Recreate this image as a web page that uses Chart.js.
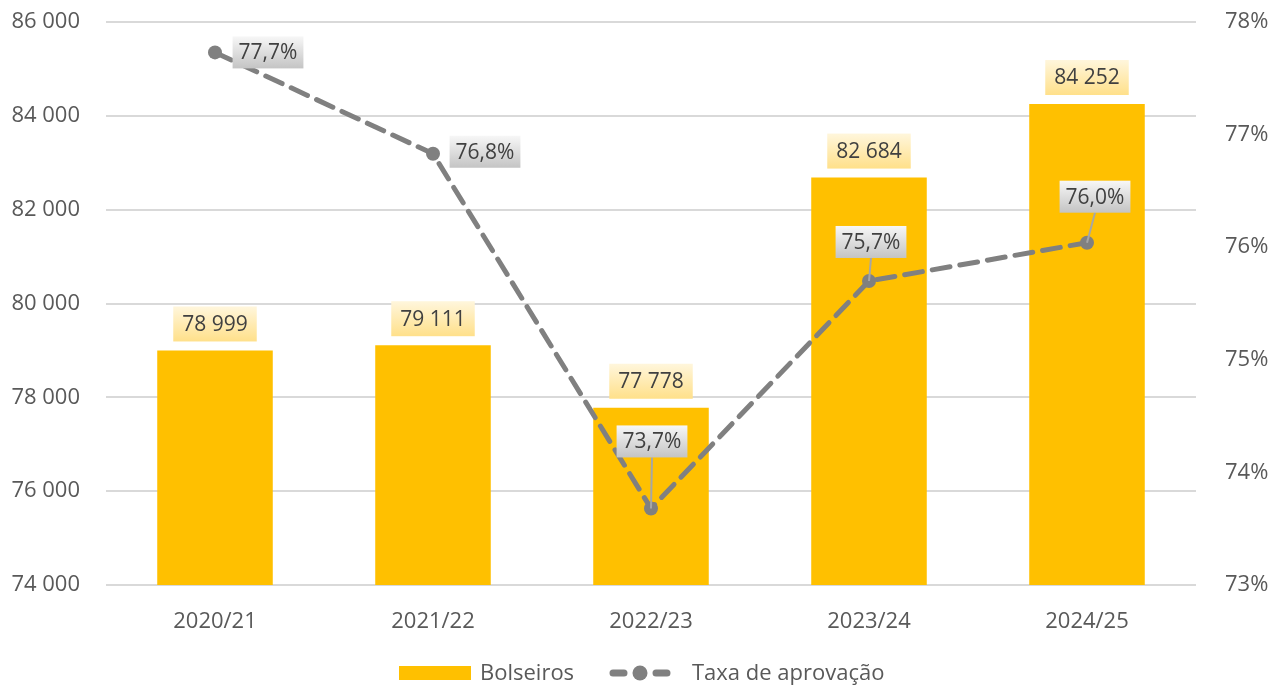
<!DOCTYPE html>
<html>
<head>
<meta charset="utf-8">
<script src="https://cdn.jsdelivr.net/npm/chart.js@4"></script>
<style>
  html, body { margin: 0; padding: 0; background: #fff; }
  #wrap { width: 1281px; height: 686px; position: relative; }
</style>
</head>
<body>
<div id="wrap"><canvas id="chart"></canvas></div>
<script>
// Data
const anos = ["2020/21", "2021/22", "2022/23", "2023/24", "2024/25"];
const bolseiros = [78999, 79111, 77778, 82684, 84252];
const taxaAprovacao = [77.73, 76.83, 73.68, 75.70, 76.04];

// label placement for the line labels (offset of box centre from point)
const lineLabelOffsets = [[53, 0], [52, -2], [1, -67], [2, -39], [8, -46]];

const FONT = "'Open Sans', sans-serif";
const TEXT = "#595959";

const fmtMil = v => String(Math.round(v)).replace(/\B(?=(\d{3})+(?!\d))/g, " ");
const fmtPct = v => v.toFixed(1).replace(".", ",") + "%";

function box(ctx, x, y, w, h, c1, c2) {
  const g = ctx.createLinearGradient(0, y, 0, y + h);
  g.addColorStop(0, c1);
  g.addColorStop(1, c2);
  ctx.fillStyle = g;
  ctx.fillRect(x, y, w, h);
}

// no extra room above the top tick label
function noVertPad(s) { s.paddingTop = 0; s.paddingBottom = 0; }

const labelsPlugin = {
  id: "labels",
  afterDatasetsDraw(chart) {
    const ctx = chart.ctx;
    ctx.save();
    ctx.font = "21px " + FONT;
    ctx.textAlign = "center";
    ctx.textBaseline = "middle";

    // bar labels
    chart.getDatasetMeta(0).data.forEach((el, i) => {
      const t = fmtMil(bolseiros[i]);
      const w = ctx.measureText(t).width + 18;
      const h = 35;
      const by = el.y - 9 - h;
      box(ctx, el.x - w / 2, by, w, h, "#fff6dc", "#ffe08a");
      ctx.fillStyle = "#404040";
      ctx.fillText(t, el.x, by + h / 2 + 1);
    });

    // line labels
    chart.getDatasetMeta(1).data.forEach((el, i) => {
      const t = fmtPct(taxaAprovacao[i]);
      const w = ctx.measureText(t).width + 12;
      const h = 32;
      const cx = el.x + lineLabelOffsets[i][0];
      const cy = el.y + lineLabelOffsets[i][1];
      if (Math.abs(lineLabelOffsets[i][1]) > 20) {
        ctx.strokeStyle = "#a6a6a6";
        ctx.lineWidth = 2;
        ctx.beginPath();
        ctx.moveTo(cx, cy + h / 2);
        ctx.lineTo(el.x, el.y);
        ctx.stroke();
      }
      box(ctx, cx - w / 2, cy - h / 2, w, h, "#f7f7f7", "#c4c4c4");
      ctx.fillStyle = "#404040";
      ctx.fillText(t, cx, cy + 1);
    });
    ctx.restore();
  },
  afterDraw(chart) {
    // legend
    const ctx = chart.ctx;
    ctx.save();
    const y = 673;
    ctx.fillStyle = "#ffc000";
    ctx.fillRect(399, y - 7, 72, 14);
    ctx.font = "22px " + FONT;
    ctx.fillStyle = TEXT;
    ctx.textAlign = "left";
    ctx.textBaseline = "middle";
    ctx.fillText("Bolseiros", 480, y + 1);

    ctx.strokeStyle = "#808080";
    ctx.lineWidth = 7;
    ctx.lineCap = "round";
    ctx.beginPath();
    ctx.moveTo(613, y); ctx.lineTo(624, y);
    ctx.moveTo(656, y); ctx.lineTo(667, y);
    ctx.stroke();
    ctx.fillStyle = "#808080";
    ctx.beginPath();
    ctx.arc(640, y, 7.5, 0, Math.PI * 2);
    ctx.fill();

    ctx.fillStyle = TEXT;
    ctx.fillText("Taxa de aprovação", 692, y + 1);
    ctx.restore();
  }
};

const chart = new Chart(document.getElementById("chart"), {
  data: {
    labels: anos,
    datasets: [
      {
        type: "bar",
        label: "Bolseiros",
        data: bolseiros,
        backgroundColor: "#ffc000",
        yAxisID: "y",
        barPercentage: 0.53,
        categoryPercentage: 1,
        order: 2
      },
      {
        type: "line",
        label: "Taxa de aprovação",
        data: taxaAprovacao,
        yAxisID: "y1",
        borderColor: "#808080",
        borderWidth: 5,
        borderDash: [18, 10],
        borderCapStyle: "round",
        pointRadius: 7,
        pointBackgroundColor: "#808080",
        pointBorderColor: "#808080",
        pointBorderWidth: 0,
        tension: 0,
        fill: false,
        order: 1
      }
    ]
  },
  options: {
    responsive: true,
    maintainAspectRatio: false,
    animation: false,
    layout: { padding: { top: 22, left: 0, right: 0, bottom: 0 } },
    plugins: {
      legend: { display: false },
      tooltip: { enabled: false }
    },
    scales: {
      x: {
        grid: { display: false },
        border: { display: false },
        ticks: { color: TEXT, font: { family: FONT, size: 22 }, padding: 16 },
        afterFit(s) { s.height = 101; }
      },
      y: {
        position: "left",
        min: 74000,
        max: 86000,
        ticks: {
          stepSize: 2000,
          color: TEXT,
          font: { family: FONT, size: 22 },
          padding: 26,
          callback: v => fmtMil(v)
        },
        grid: { color: "#d9d9d9", lineWidth: 2, drawTicks: false },
        border: { display: false },
        afterFit(s) { s.width = 106; noVertPad(s); }
      },
      y1: {
        position: "right",
        min: 73,
        max: 78,
        ticks: {
          stepSize: 1,
          color: TEXT,
          font: { family: FONT, size: 22 },
          padding: 29,
          callback: v => v + "%"
        },
        grid: { display: false, drawTicks: false },
        border: { display: false },
        afterFit(s) { s.width = 85; noVertPad(s); }
      }
    }
  },
  plugins: [labelsPlugin]
});
</script>
</body>
</html>
